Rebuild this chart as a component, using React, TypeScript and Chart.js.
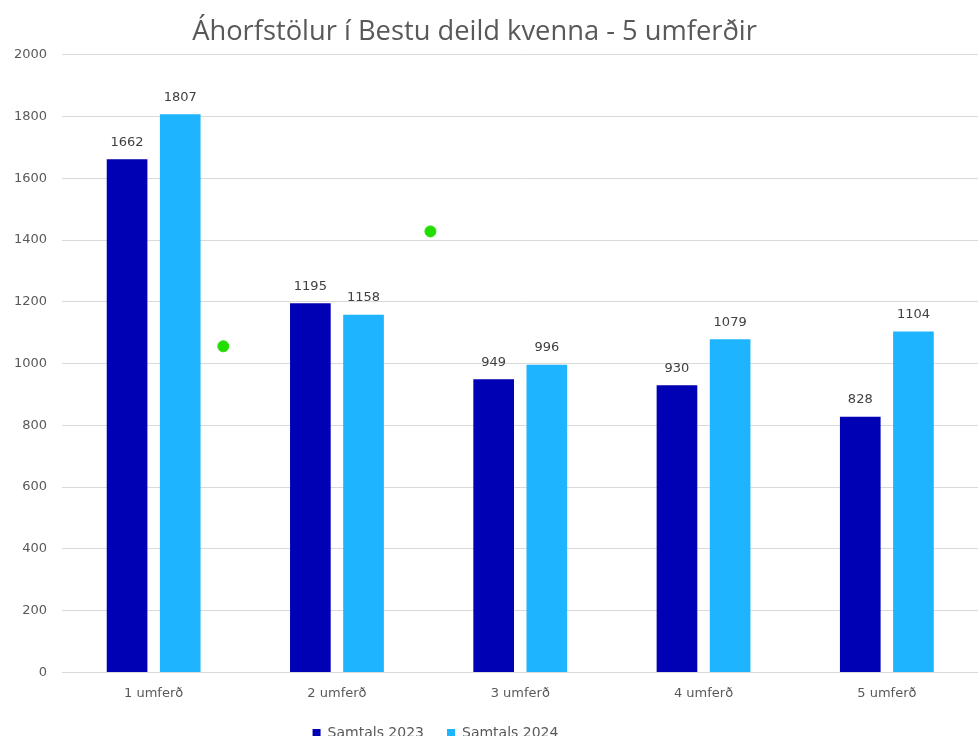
import React, { useEffect, useRef } from "react";
import { Chart, registerables } from "chart.js";

Chart.register(...registerables);

const categories = ["1 umferð", "2 umferð", "3 umferð", "4 umferð", "5 umferð"];
const series2023 = [1662, 1195, 949, 930, 828];
const series2024 = [1807, 1158, 996, 1079, 1104];
const seriesNames = ["Samtals 2023", "Samtals 2024"];
const strayX = [0.38, 1.51];
const strayY = [1056, 1428];
const yTicksMax = 2000;
const yTicksStep = 200;
const titleText = "Áhorfstölur í Bestu deild kvenna - 5 umferðir";

const barLabels = {
  id: "barLabels",
  afterDatasetsDraw(chart: any) {
    const ctx = chart.ctx;
    ctx.save();
    ctx.font = "13px 'DejaVu Sans'";
    ctx.fillStyle = "#404040";
    ctx.textAlign = "center";
    ctx.textBaseline = "middle";
    chart.data.datasets.forEach((ds: any, i: number) => {
      if (ds.type === "scatter") return;
      const meta = chart.getDatasetMeta(i);
      meta.data.forEach((el: any, j: number) => {
        ctx.fillText(String(ds.data[j].y), el.x, el.y - 17);
      });
    });
    ctx.restore();
  },
};

const shiftBoxes = {
  id: "shiftBoxes",
  afterLayout(chart: any) {
    const t = chart.titleBlock;
    if (t) {
      t.left -= 18;
      t.right -= 18;
    }
    const l = chart.legend;
    if (l) {
      l.left -= 57;
      l.right -= 57;
      l.top -= 11;
      l.bottom -= 11;
    }
  },
};

export default function App() {
  const ref = useRef<HTMLCanvasElement>(null);
  useEffect(() => {
    if (!ref.current) return;
    const chart: any = new Chart(ref.current, {
      type: "bar",
      data: {
        datasets: [
          {
            label: seriesNames[0],
            data: series2023.map((v, i) => ({ x: i, y: v })),
            backgroundColor: "#0000b4",
            categoryPercentage: 0.58,
            barPercentage: 0.765,
          },
          {
            label: seriesNames[1],
            data: series2024.map((v, i) => ({ x: i, y: v })),
            backgroundColor: "#1eb4ff",
            categoryPercentage: 0.58,
            barPercentage: 0.765,
          },
          {
            type: "scatter",
            label: "",
            data: strayX.map((x, i) => ({ x, y: strayY[i] })),
            backgroundColor: "#22dd00",
            borderColor: "#22dd00",
            pointRadius: 5.5,
          } as any,
        ],
      },
      options: {
        animation: false,
        responsive: false,
        layout: { padding: 0 },
        plugins: {
          title: {
            display: true,
            text: titleText,
            color: "#595959",
            font: { family: "'Open Sans'", size: 27.3, weight: "normal" },
            padding: { top: 16, bottom: 6 },
          },
          legend: {
            position: "bottom",
            labels: {
              boxWidth: 8,
              boxHeight: 8,
              padding: 23,
              color: "#595959",
              font: { family: "'DejaVu Sans'", size: 14 },
              filter: (item: any) => item.text !== "",
            },
          },
          tooltip: { enabled: false },
        },
        scales: {
          x: {
            type: "linear",
            min: -0.5,
            max: 4.5,
            offset: false,
            grid: { display: false, drawTicks: false },
            border: { display: false },
            afterBuildTicks: (s: any) => {
              s.ticks = categories.map((_, i) => ({ value: i }));
            },
            afterFit: (s: any) => {
              s.paddingLeft = 0;
              s.paddingRight = 0;
            },
            ticks: {
              color: "#595959",
              font: { family: "'DejaVu Sans'", size: 13 },
              padding: 13,
              autoSkip: false,
              maxRotation: 0,
              callback: (v: any) => categories[v] ?? "",
            },
          },
          y: {
            min: 0,
            max: yTicksMax,
            grid: { color: "#d9d9d9", drawTicks: false },
            border: { display: false },
            afterFit: (s: any) => {
              s.width = 62;
            },
            ticks: {
              stepSize: yTicksStep,
              color: "#595959",
              font: { family: "'DejaVu Sans'", size: 13 },
              padding: 15,
              callback: (v: any) => String(v),
            },
          },
        },
      },
      plugins: [barLabels, shiftBoxes],
    });
    return () => chart.destroy();
  }, []);
  return (
    <div style={{ position: "fixed", left: 0, top: 0, width: 978, height: 736, overflow: "hidden", background: "#fff" }}>
      <canvas ref={ref} width={985} height={761} style={{ display: "block" }} />
    </div>
  );
}
